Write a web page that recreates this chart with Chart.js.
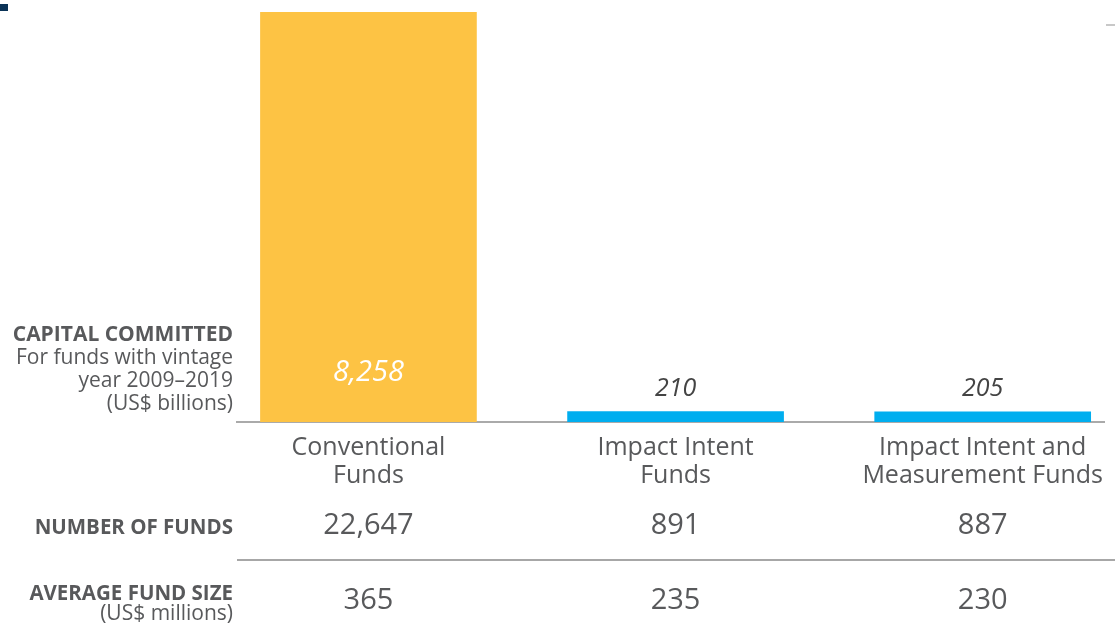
<!DOCTYPE html>
<html>
<head>
<meta charset="utf-8">
<style>
  html, body { margin: 0; padding: 0; background: #fff; overflow: hidden; }
  #wrap { width: 1115px; height: 624px; position: relative; }
</style>
<script src="https://cdn.jsdelivr.net/npm/chart.js@4/dist/chart.umd.min.js"></script>
</head>
<body>
<div id="wrap"><canvas id="myChart"></canvas></div>
<script>
const categories = [
    ['Conventional', 'Funds'],
    ['Impact Intent', 'Funds'],
    ['Impact Intent and', 'Measurement Funds']
];
const capitalCommitted = [8258, 210, 205];     // US$ billions
const numberOfFunds = [22647, 891, 887];
const averageFundSize = [365, 235, 230];       // US$ millions

const barColors = ['#FDC344', '#00AEEF', '#00AEEF'];
const textGrey = '#58595B';
const fontName = '"Open Sans", "Noto Sans", sans-serif';

function fmt(n) {
    return n.toLocaleString('en-US');
}

// labels, table rows and decorations
const extras = {
    id: 'extras',
    afterDatasetsDraw(chart) {
        const c = chart.ctx;
        const x = chart.scales.x;
        const area = chart.chartArea;
        c.save();

        // little marks at the corners
        c.fillStyle = '#0B3357';
        c.fillRect(0, 4, 8, 7);
        c.fillStyle = '#C8C8C8';
        c.fillRect(1106, 24, 9, 2);

        // values on the bars
        const meta = chart.getDatasetMeta(0);
        c.textAlign = 'center';
        c.textBaseline = 'middle';
        meta.data.forEach((bar, i) => {
            const h = bar.base - bar.y;
            if (h > 60) {
                c.fillStyle = '#FFFFFF';
                c.font = 'italic 29px ' + fontName;
                c.fillText(fmt(capitalCommitted[i]), bar.x, bar.base - 49);
            } else {
                c.fillStyle = '#444444';
                c.font = 'italic 25px ' + fontName;
                c.fillText(fmt(capitalCommitted[i]), bar.x, bar.y - 23);
            }
        });

        // left hand captions
        c.textAlign = 'right';
        c.fillStyle = textGrey;
        c.font = 'bold 21px ' + fontName;
        c.fillText('CAPITAL COMMITTED', 233, 335);
        c.font = '21px ' + fontName;
        c.fillText('For funds with vintage', 233, 358);
        c.fillText('year 2009\u20132019', 233, 381);
        c.fillText('(US$ billions)', 233, 404);

        c.font = 'bold 20.5px ' + fontName;
        c.fillText('NUMBER OF FUNDS', 233, 528);
        c.fillText('AVERAGE FUND SIZE', 233, 594);
        c.font = '21px ' + fontName;
        c.fillText('(US$ millions)', 233, 614);

        // table rows
        c.textAlign = 'center';
        c.font = '29px ' + fontName;
        numberOfFunds.forEach((v, i) => {
            c.fillText(fmt(v), x.getPixelForValue(i), 526);
        });
        averageFundSize.forEach((v, i) => {
            c.fillText(fmt(v), x.getPixelForValue(i), 601);
        });

        // separator between rows
        c.strokeStyle = '#8A8A8A';
        c.lineWidth = 1.5;
        c.beginPath();
        c.moveTo(area.left, 560);
        c.lineTo(chart.width, 560);
        c.stroke();

        c.restore();
    }
};

const ctx = document.getElementById('myChart').getContext('2d');

new Chart(ctx, {
    type: 'bar',
    data: {
        datasets: [{
            label: 'Capital committed',
            data: capitalCommitted.map((v, i) => ({ x: i, y: v })),
            backgroundColor: barColors,
            borderWidth: 0,
            barThickness: 216
        }]
    },
    options: {
        responsive: true,
        maintainAspectRatio: false,
        animation: false,
        layout: {
            padding: { top: 12, left: 237, right: 0, bottom: 0 }
        },
        plugins: {
            legend: { display: false },
            tooltip: { enabled: false }
        },
        scales: {
            x: {
                type: 'linear',
                offset: false,
                min: -0.428,
                max: 2.396,
                afterBuildTicks: scale => {
                    scale.ticks = categories.map((_, i) => ({ value: i }));
                },
                afterFit: scale => { scale.height = 202; },
                ticks: {
                    autoSkip: false,
                    maxRotation: 0,
                    padding: 12,
                    color: textGrey,
                    font: { family: fontName, size: 25, lineHeight: 1.12 },
                    callback: v => categories[v]
                },
                grid: { display: false, drawTicks: false, offset: false },
                border: { display: true, color: '#AAAAAA', width: 2 }
            },
            y: {
                display: false,
                min: 0,
                max: 8258
            }
        }
    },
    plugins: [extras]
});
</script>
</body>
</html>
